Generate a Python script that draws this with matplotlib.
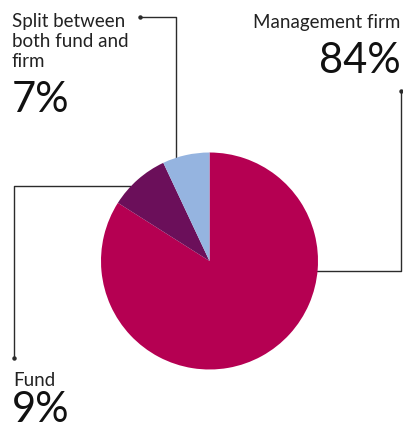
import matplotlib
matplotlib.use('Agg')
import matplotlib.pyplot as plt

# Доли ответов
labels = ['Management firm', 'Fund', 'Split between\nboth fund and\nfirm']
shares = [84, 9, 7]
colors = ['#B50052', '#6B0F5A', '#95B4E0']

W, H = 403, 430


def py(y):
	# пиксели сверху -> координаты осей снизу
	return H - y


plt.rcParams['font.family'] = ['Lato', 'DejaVu Sans']
fig = plt.figure(figsize=(W / 100, H / 100), dpi=100)
ax = fig.add_axes([0, 0, 1, 1])

# Круговая диаграмма: по часовой стрелке от 12 часов
ax.pie(shares, colors=colors, startangle=90, counterclock=False,
	   center=(209.5, py(261)), radius=108.5, frame=True,
	   wedgeprops=dict(linewidth=0))
ax.set_xlim(0, W)
ax.set_ylim(0, H)
ax.set_aspect('equal')
ax.axis('off')

line_kw = dict(color='#2b2b2b', lw=1.0, zorder=0)
dot_kw = dict(color='#2b2b2b', marker='o', ms=2.2, zorder=0)

# Выноска: Management firm
ax.plot([300, 401, 401], [py(271), py(271), py(91)], **line_kw)
ax.plot([401], [py(91)], **dot_kw)

# Выноска: Fund
ax.plot([130, 14, 14], [py(186), py(186), py(358)], **line_kw)
ax.plot([14], [py(358)], **dot_kw)

# Выноска: Split
ax.plot([176, 176, 140], [py(170), py(17), py(17)], **line_kw)
ax.plot([140], [py(17)], **dot_kw)

label_kw = dict(fontsize=13.5, color='#222222')
pct_kw = dict(fontsize=30, color='#111111')

ax.text(400, py(28), labels[0], ha='right', va='baseline', **label_kw)
ax.text(401, py(73), f'{shares[0]}%', ha='right', va='baseline', **pct_kw)

ax.text(13, py(386), labels[1], ha='left', va='baseline', **label_kw)
ax.text(12, py(422), f'{shares[1]}%', ha='left', va='baseline', **pct_kw)

# подпись в три строки, шаг 20 px
for i, line in enumerate(labels[2].split('\n')):
	ax.text(12, py(27 + 20 * i), line, ha='left', va='baseline', **label_kw)
ax.text(12, py(112), f'{shares[2]}%', ha='left', va='baseline', **pct_kw)

fig.savefig('out.png', dpi=100)
